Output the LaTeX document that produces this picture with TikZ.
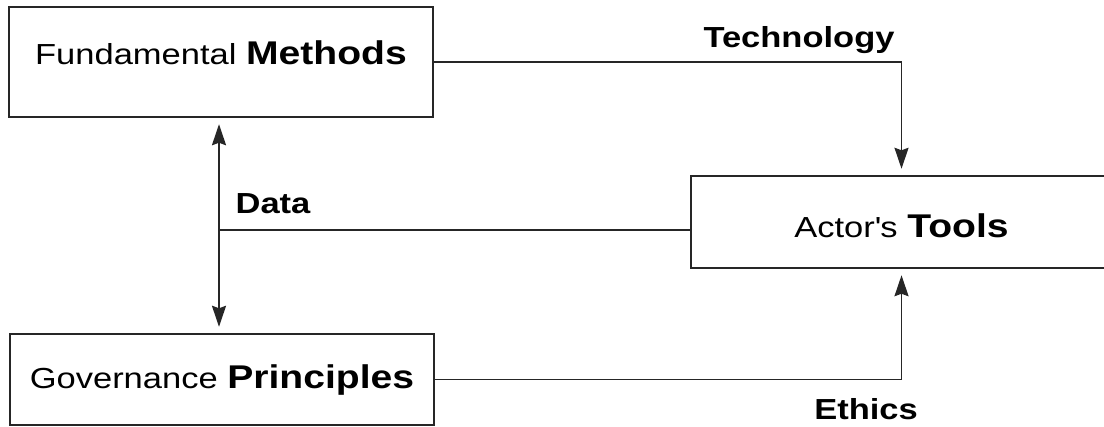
\documentclass[tikz,border=0pt]{standalone}
\usepackage{fontspec}
\setmainfont[FakeStretch=1.19]{Liberation Sans}
\usetikzlibrary{positioning}
\usetikzlibrary{arrows.meta}

\newcommand{\boxword}[1]{{\fontsize{18.7}{22}\selectfont\bfseries #1}}

\begin{document}
\begin{tikzpicture}[x=0.02cm, y=-0.02cm,
  box/.style={draw=black!85, line width=1.4pt, inner sep=0pt, minimum width=8.48cm,
    text height=14pt, text depth=4pt, font=\fontsize{16.5}{20}\selectfont},
  lbl/.style={inner sep=0pt, anchor=base, font=\fontsize{16.5}{20}\selectfont\bfseries},
  link/.style={draw=black!85, line width=1.1pt},
  tip/.style={-{Stealth[length=0.42cm,width=0.28cm,inset=0.05cm]}, shorten >=0.12cm},
  dtip/.style={{Stealth[length=0.42cm,width=0.28cm,inset=0.05cm]}-{Stealth[length=0.42cm,width=0.28cm,inset=0.05cm]},
    shorten <=0.12cm, shorten >=0.12cm}]
				\useasboundingbox (0,0) rectangle (1104,426);
				
				% the three boxes
				\node[box, minimum height=2.2cm, text height=14pt, text depth=10.8pt] (methods) at (221,62) {Fundamental \boxword{Methods}};
				\node[box, minimum width=8.42cm, minimum height=1.84cm, text height=18pt, text depth=0pt] (tools) at (901.5,222) {Actor\textquotesingle s \boxword{Tools}};
				\node[box, minimum height=1.82cm] (principles) at (222,379.5) {Governance \boxword{Principles}};
				
				\coordinate (datajoin) at (219,230);
				
				\draw[link, tip] (methods.east) -| (tools.north);
				\draw[link, tip] (principles.east) -| (tools.south);
				\draw[link, dtip] (methods.south -| datajoin) -- (principles.north -| datajoin);
				\draw[link] (datajoin) -- (datajoin -| tools.west);
				
				\node[lbl] (tech) at (799,47) {Technology};
				\node[lbl] (data) at (273,213) {Data};
				\node[lbl] (ethics) at (866,419) {Ethics};
			\end{tikzpicture}
\end{document}
